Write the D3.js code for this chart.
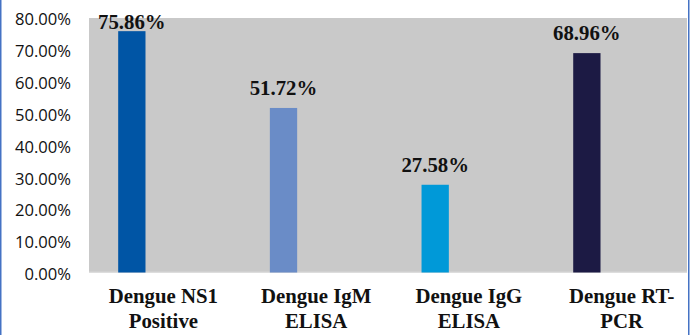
<!DOCTYPE html>
<html>
<head>
<meta charset="utf-8">
<script src="https://cdn.jsdelivr.net/npm/d3@7"></script>
<style>
  html, body { margin: 0; padding: 0; background: #fff; }
  svg { display: block; }
</style>
</head>
<body>
<svg id="chart" width="692" height="335"></svg>
<script>
// Dengue test positivity (%)
const categories = ["Dengue NS1 Positive", "Dengue IgM ELISA", "Dengue IgG ELISA", "Dengue RT-PCR"];
const categoryLines = [["Dengue NS1", "Positive"], ["Dengue IgM", "ELISA"], ["Dengue IgG", "ELISA"], ["Dengue RT-", "PCR"]];
const values = [75.86, 51.72, 27.58, 68.96];
const valueLabels = ["75.86%", "51.72%", "27.58%", "68.96%"];
const barColors = ["#0055a5", "#6a8cc7", "#0099d8", "#1c1a44"];
const yTicks = [0, 10, 20, 30, 40, 50, 60, 70, 80];

const svg = d3.select("#chart");
const W = 692, H = 335;
const plot = { left: 89, right: 687, top: 18, bottom: 272.5 };

const y = d3.scaleLinear().domain([0, 80]).range([plot.bottom, plot.top]);

// bars sit left of the category slots; labels follow the slot centres
const xBar = d3.scaleBand().domain(categories).range([56, 662.7]).paddingInner(0.82).paddingOuter(0.41);
const xLab = d3.scaleBand().domain(categories).range([87, 698]);

// plot background
svg.append("rect")
  .attr("x", plot.left).attr("y", plot.top)
  .attr("width", plot.right - plot.left).attr("height", plot.bottom - plot.top)
  .attr("fill", "#c9c9c9");

// baseline
svg.append("line")
  .attr("x1", plot.left).attr("x2", plot.right)
  .attr("y1", y(0) - 0.5).attr("y2", y(0) - 0.5)
  .attr("stroke", "#d6d6d6").attr("stroke-width", 1);

// y axis labels
const yAxis = d3.axisLeft(y).tickValues(yTicks).tickSize(0).tickPadding(0)
  .tickFormat(d => d3.format(".2f")(d) + "%");
const gy = svg.append("g").attr("transform", "translate(71,0)").call(yAxis);
gy.select(".domain").remove();
gy.selectAll("text")
  .attr("font-family", "'Open Sans', 'Liberation Sans', sans-serif")
  .attr("font-size", 16.6)
  .attr("fill", "#111")
  .attr("dy", "0.42em");

// bars
svg.append("g").selectAll("rect").data(categories).join("rect")
  .attr("x", (c) => xBar(c))
  .attr("width", xBar.bandwidth())
  .attr("y", (c, i) => y(values[i]))
  .attr("height", (c, i) => y(0) - y(values[i]))
  .attr("fill", (c, i) => barColors[i]);

// value labels
svg.append("g").selectAll("text").data(categories).join("text")
  .attr("x", c => xBar(c) + xBar.bandwidth() / 2)
  .attr("y", (c, i) => Math.max(y(values[i]) - 13, 28.5))
  .attr("text-anchor", "middle")
  .attr("font-family", "'Liberation Serif', 'Times New Roman', serif")
  .attr("font-weight", "bold")
  .attr("font-size", 20.8)
  .attr("fill", "#111")
  .text((c, i) => valueLabels[i]);

// category labels
const cat = svg.append("g").selectAll("text").data(categories).join("text")
  .attr("x", c => xLab(c) + xLab.bandwidth() / 2)
  .attr("y", 303)
  .attr("text-anchor", "middle")
  .attr("font-family", "'Liberation Serif', 'Times New Roman', serif")
  .attr("font-weight", "bold")
  .attr("font-size", 20.8)
  .attr("fill", "#111");
cat.selectAll("tspan").data((c, i) => categoryLines[i]).join("tspan")
  .attr("x", function () { return d3.select(this.parentNode).attr("x"); })
  .attr("dy", (d, j) => j === 0 ? 0 : 25)
  .text(d => d);

// frame edges
svg.append("line").attr("x1", 0.75).attr("x2", 0.75).attr("y1", 0).attr("y2", H)
  .attr("stroke", "#4472c4").attr("stroke-width", 1.5);
svg.append("line").attr("x1", 688.75).attr("x2", 688.75).attr("y1", 0).attr("y2", H)
  .attr("stroke", "#4472c4").attr("stroke-width", 1.5);
</script>
</body>
</html>
